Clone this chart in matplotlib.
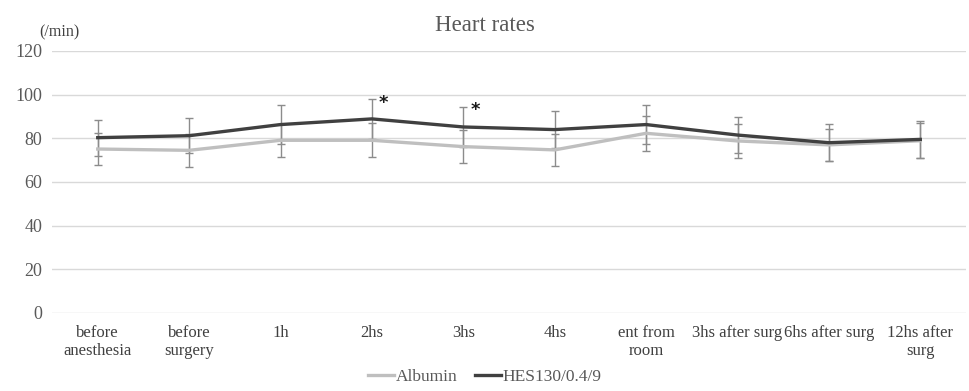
"""
Heart rates: Albumin vs HES130/0.4/9 with SD error bars.
"""
import numpy as np
from matplotlib import pyplot as plt

plt.rcParams['font.family'] = ['Liberation Serif', 'DejaVu Serif']

categories = ["before\nanesthesia", "before\nsurgery", "1h", "2hs", "3hs",
              "4hs", "ent from\nroom", "3hs after surg", "6hs after surg",
              "12hs after\nsurg"]

albumin_mean = [75.1, 74.5, 79.1, 79.1, 76.2, 74.7, 82.3, 78.8, 77.0, 78.9]
albumin_sd = [7.4, 7.5, 7.6, 7.7, 7.6, 7.5, 7.9, 7.7, 7.2, 8.1]

hes_mean = [80.3, 81.2, 86.3, 88.9, 85.2, 84.0, 86.3, 81.5, 78.0, 79.5]
hes_sd = [8.2, 8.1, 9.0, 9.0, 9.0, 8.5, 9.0, 8.1, 8.5, 8.3]

# categories that got a significance mark, and the height of the mark
star_idx = [3, 4]
star_y = [96.3, 93.0]

yticks = [0, 20, 40, 60, 80, 100, 120]


def main():
    fig = plt.figure(figsize=(9.69, 3.91), dpi=100)
    ax = fig.add_axes([0.0537, 0.1995, 0.9432, 0.6701])

    x = np.arange(len(categories))

    # error bars first, lines on top
    ax.errorbar(x, albumin_mean, yerr=albumin_sd, fmt="none",
                ecolor="#8c8c8c", elinewidth=1.0, capsize=3, capthick=1.0,
                zorder=2)
    ax.errorbar(x, hes_mean, yerr=hes_sd, fmt="none",
                ecolor="#8c8c8c", elinewidth=1.0, capsize=3, capthick=1.0,
                zorder=2)

    ax.plot(x, albumin_mean, color="#bfbfbf", linewidth=2.4,
            label="Albumin", zorder=3)
    ax.plot(x, hes_mean, color="#404040", linewidth=2.4,
            label="HES130/0.4/9", zorder=4)

    for i, yy in zip(star_idx, star_y):
        ax.text(x[i] + 0.13, yy, "*", fontsize=13, fontweight="bold",
                family="DejaVu Sans", ha="center", va="center",
                color="#1a1a1a")

    ax.set_xlim(-0.5, len(categories) - 0.5)
    ax.set_ylim(0, 120)
    ax.set_yticks(yticks)
    ax.set_xticks(x)
    ax.set_xticklabels(categories, fontsize=12, color="#404040",
                       linespacing=1.1)
    ax.tick_params(axis="y", labelsize=13, labelcolor="#595959",
                   length=0, pad=7)
    ax.tick_params(axis="x", length=0, pad=9)

    ax.grid(axis="y", color="#d9d9d9", linewidth=1.0)
    ax.set_axisbelow(True)
    for spine in ax.spines.values():
        spine.set_visible(False)

    fig.text(0.5, 0.935, "Heart rates", fontsize=16.5, color="#595959",
             ha="center", va="center")
    fig.text(0.061, 0.918, "(/min)", fontsize=11.5, color="#404040",
             ha="center", va="center")

    fig.legend(loc="lower center", bbox_to_anchor=(0.5, -0.025), ncol=2,
               frameon=False, fontsize=12.5, handlelength=1.5,
               handletextpad=0.1, columnspacing=1.0, labelcolor="#595959")

    fig.savefig("out.png", dpi=100)
    plt.close(fig)


if __name__ == "__main__":
    main()
